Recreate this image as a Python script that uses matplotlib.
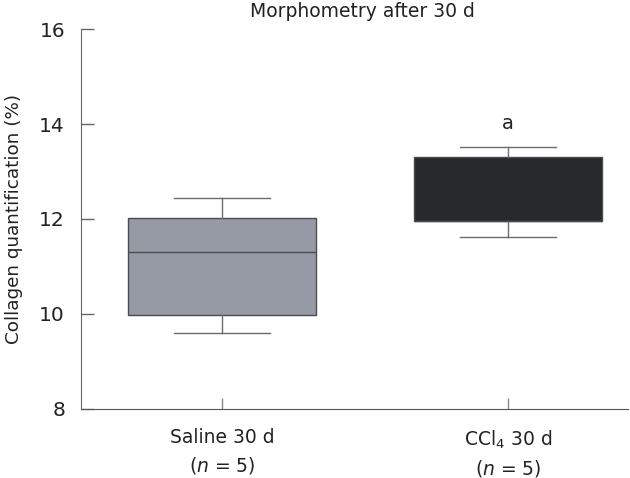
import matplotlib
matplotlib.use("Agg")
import matplotlib.pyplot as plt

# box statistics
groups = ["Saline 30 d\n($\\mathit{n}$ = 5)", "CCl$_\\mathregular{4}$ 30 d\n($\\mathit{n}$ = 5)"]
whislo = [9.6, 11.62]
q1 = [9.97, 11.96]
med = [11.3, 11.96]
q3 = [12.03, 13.3]
whishi = [12.45, 13.52]
box_colors = ["#959aa4", "#27292c"]
sig_labels = ["", "a"]

plt.rcParams["font.family"] = ["DejaVu Sans"]
plt.rcParams["mathtext.fontset"] = "dejavusans"

fig = plt.figure(figsize=(6.3, 4.78), dpi=100)
ax = fig.add_axes([0.1286, 0.1444, 0.8682, 0.7949])

stats = []
for i in range(len(groups)):
    stats.append({"whislo": whislo[i], "q1": q1[i], "med": med[i], "q3": q3[i],
                  "whishi": whishi[i], "fliers": []})

edge = "#4a4c50"
bp = ax.bxp(stats, positions=[1, 2], widths=0.66, capwidths=0.336, patch_artist=True,
            showfliers=False,
            boxprops=dict(edgecolor=edge, linewidth=1.0),
            medianprops=dict(color=edge, linewidth=1.0),
            whiskerprops=dict(color="#6a6c70", linewidth=1.0),
            capprops=dict(color="#6a6c70", linewidth=1.0))
for patch, c in zip(bp["boxes"], box_colors):
    patch.set_facecolor(c)

for i, s in enumerate(sig_labels):
    if s:
        ax.text(i + 1, whishi[i] + 0.3, s, ha="center", va="bottom", fontsize=14, color="#222222")

ax.set_xlim(0.507, 2.42)
ax.set_ylim(8, 16)
ax.set_yticks([8, 10, 12, 14, 16])
ax.set_xticks([1, 2])
ax.set_xticklabels(groups, fontsize=13.5, linespacing=1.45, color="#222222")
ax.tick_params(axis="y", direction="in", length=9, width=1, color="#666666", labelsize=14.5,
               labelcolor="#222222", pad=11.5)
ax.tick_params(axis="x", direction="in", length=8, width=1, color="#888888", pad=14)
for side in ["top", "right"]:
    ax.spines[side].set_visible(False)
ax.spines["left"].set_color("#666666")
ax.spines["bottom"].set_color("#555555")
ax.set_ylabel("Collagen quantification (%)", fontsize=13.2, labelpad=12, color="#222222")
fig.text(0.575, 0.975, "Morphometry after 30 d", ha="center", va="center", fontsize=13.5,
         color="#222222")

fig.savefig("out.png", dpi=100)
